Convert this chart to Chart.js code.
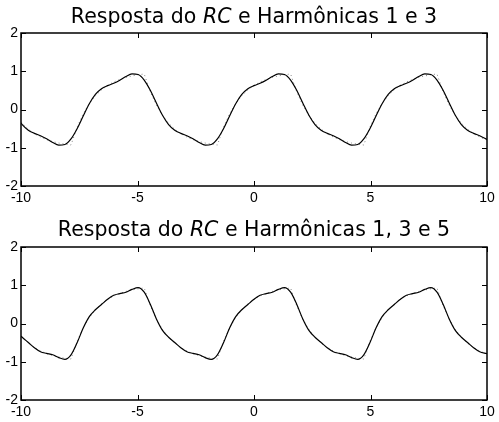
<!DOCTYPE html>
<html>
<head>
<meta charset="utf-8">
<script src="https://cdn.jsdelivr.net/npm/chart.js@4.4.0/dist/chart.umd.min.js"></script>
<style>
    body { margin: 0; background: #fff; width: 499px; height: 422px; position: relative; overflow: hidden; }
    .plot { position: absolute; left: 0; width: 499px; height: 211px; }
    .titulo {
        position: absolute; left: 21px; width: 466px; text-align: center;
        font-family: "DejaVu Sans"; font-size: 20.5px; line-height: 24px; color: #000; white-space: nowrap; z-index: 2;
    }
</style>
</head>
<body>
<div class="plot" style="top:0px"><canvas id="graf1" width="499" height="211"></canvas></div>
<div class="plot" style="top:211px"><canvas id="graf2" width="499" height="211"></canvas></div>
<div class="titulo" style="top:4px">Resposta do <i>RC</i> e Harmônicas 1 e 3</div>
<div class="titulo" style="top:217px">Resposta do <i>RC</i> e Harmônicas 1, 3 e 5</div>

<script>
// eixo do tempo
const tempo = [-10, -9.948, -9.687, -9.425, -9.163, -8.901, -8.639, -8.378, -8.116, -7.854, -7.592, -7.330, -7.069, -6.807, -6.545, -6.283,
    -6.021, -5.760, -5.498, -5.236, -4.974, -4.712, -4.451, -4.189, -3.927, -3.665, -3.403, -3.142, -2.880, -2.618, -2.356, -2.094,
    -1.833, -1.571, -1.309, -1.047, -0.785, -0.524, -0.262, 0, 0.262, 0.524, 0.785, 1.047, 1.309, 1.571, 1.833, 2.094, 2.356, 2.618,
    2.880, 3.142, 3.403, 3.665, 3.927, 4.189, 4.451, 4.712, 4.974, 5.236, 5.498, 5.760, 6.021, 6.283, 6.545, 6.807, 7.069, 7.330,
    7.592, 7.854, 8.116, 8.378, 8.639, 8.901, 9.163, 9.425, 9.687, 9.948, 10];

// soma das harmonicas 1 e 3
const harm13 = [-0.354,
    -0.395, -0.543, -0.623, -0.685, -0.765, -0.862, -0.931, -0.914, -0.768, -0.501, -0.169, 0.151, 0.395, 0.543,
    0.623, 0.685, 0.765, 0.862, 0.931, 0.914, 0.768, 0.501, 0.169, -0.151, -0.395, -0.543,
    -0.623, -0.685, -0.765, -0.862, -0.931, -0.914, -0.768, -0.501, -0.169, 0.151, 0.395, 0.543,
    0.623, 0.685, 0.765, 0.862, 0.931, 0.914, 0.768, 0.501, 0.169, -0.151, -0.395, -0.543,
    -0.623, -0.685, -0.765, -0.862, -0.931, -0.914, -0.768, -0.501, -0.169, 0.151, 0.395, 0.543,
    0.623, 0.685, 0.765, 0.862, 0.931, 0.914, 0.768, 0.501, 0.169, -0.151, -0.395, -0.543, -0.623, -0.685, -0.765,
    -0.784];

// soma das harmonicas 1, 3 e 5
const harm135 = [-0.330,
    -0.360, -0.496, -0.634, -0.737, -0.781, -0.818, -0.892, -0.938, -0.819, -0.504, -0.119, 0.180, 0.360, 0.496,
    0.634, 0.737, 0.781, 0.818, 0.892, 0.938, 0.819, 0.504, 0.119, -0.180, -0.360, -0.496,
    -0.634, -0.737, -0.781, -0.818, -0.892, -0.938, -0.819, -0.504, -0.119, 0.180, 0.360, 0.496,
    0.634, 0.737, 0.781, 0.818, 0.892, 0.938, 0.819, 0.504, 0.119, -0.180, -0.360, -0.496,
    -0.634, -0.737, -0.781, -0.818, -0.892, -0.938, -0.819, -0.504, -0.119, 0.180, 0.360, 0.496,
    0.634, 0.737, 0.781, 0.818, 0.892, 0.938, 0.819, 0.504, 0.119, -0.180, -0.360, -0.496, -0.634, -0.737, -0.781,
    -0.787];

// resposta do RC (pontilhada)
const respostaRC = [-0.322,
    -0.359, -0.514, -0.631, -0.720, -0.787, -0.838, -0.877, -0.907, -0.929, -0.465, -0.112, 0.156, 0.359, 0.514,
    0.631, 0.720, 0.787, 0.838, 0.877, 0.907, 0.929, 0.465, 0.112, -0.156, -0.359, -0.514,
    -0.631, -0.720, -0.787, -0.838, -0.877, -0.907, -0.929, -0.465, -0.112, 0.156, 0.359, 0.514,
    0.631, 0.720, 0.787, 0.838, 0.877, 0.907, 0.929, 0.465, 0.112, -0.156, -0.359, -0.514,
    -0.631, -0.720, -0.787, -0.838, -0.877, -0.907, -0.929, -0.465, -0.112, 0.156, 0.359, 0.514,
    0.631, 0.720, 0.787, 0.838, 0.877, 0.907, 0.929, 0.465, 0.112, -0.156, -0.359, -0.514, -0.631, -0.720, -0.787,
    -0.799];

const ticksX = [-10, -5, 0, 5, 10];
const ticksY = [-2, -1, 0, 1, 2];

// moldura e marcas para dentro, estilo matlab
const moldura = {
    id: 'moldura',
    afterDatasetsDraw(chart) {
        let ctx = chart.ctx;
        let a = chart.chartArea;
        let sx = chart.scales.x;
        let sy = chart.scales.y;
        ctx.save();
        ctx.strokeStyle = '#000';
        ctx.lineWidth = 1;
        ctx.beginPath();
        sx.ticks.forEach((t) => {
            let px = Math.round(sx.getPixelForValue(t.value)) + 0.5;
            ctx.moveTo(px, a.bottom); ctx.lineTo(px, a.bottom - 5);
            ctx.moveTo(px, a.top); ctx.lineTo(px, a.top + 5);
        });
        sy.ticks.forEach((t) => {
            let py = Math.round(sy.getPixelForValue(t.value)) + 0.5;
            ctx.moveTo(a.left, py); ctx.lineTo(a.left + 5, py);
            ctx.moveTo(a.right, py); ctx.lineTo(a.right - 5, py);
        });
        ctx.stroke();
        ctx.lineWidth = 1.5;
        ctx.strokeRect(a.left, a.top, a.right - a.left, a.bottom - a.top);
        ctx.restore();
    }
};

function pontos(ys) {
    return tempo.map((t, i) => ({ x: t, y: ys[i] }));
}

function criaGrafico(id, serie, topo, alturaX) {
    let ctx = document.getElementById(id).getContext('2d');
    return new Chart(ctx, {
        type: 'line',
        data: {
            datasets: [
                {
                    data: pontos(serie),
                    borderColor: '#000',
                    borderWidth: 1.2,
                    pointRadius: 0,
                    cubicInterpolationMode: 'monotone',
                    fill: false
                },
                {
                    data: pontos(respostaRC),
                    borderColor: '#888',
                    borderWidth: 1,
                    borderDash: [1, 3],
                    pointRadius: 0,
                    tension: 0,
                    fill: false
                }
            ]
        },
        options: {
            responsive: false,
            animation: false,
            devicePixelRatio: 1,
            layout: { padding: { top: topo, right: 12, left: 0, bottom: 0 } },
            plugins: { legend: { display: false }, tooltip: { enabled: false }, title: { display: false } },
            scales: {
                x: {
                    type: 'linear',
                    min: -10,
                    max: 10,
                    grid: { display: false, drawTicks: false },
                    border: { display: false },
                    afterBuildTicks: (s) => { s.ticks = ticksX.map(v => ({ value: v })); },
                    afterFit: (s) => { s.height = alturaX; },
                    ticks: {
                        color: '#000',
                        padding: 4,
                        maxRotation: 0,
                        font: { family: 'Liberation Sans', size: 14 }
                    }
                },
                y: {
                    min: -2,
                    max: 2,
                    grid: { display: false, drawTicks: false },
                    border: { display: false },
                    afterBuildTicks: (s) => { s.ticks = ticksY.map(v => ({ value: v })); },
                    afterFit: (s) => { s.width = 21; },
                    ticks: {
                        color: '#000',
                        padding: 3,
                        font: { family: 'Liberation Sans', size: 14 }
                    }
                }
            }
        },
        plugins: [moldura]
    });
}

criaGrafico('graf1', harm13, 33, 25);
criaGrafico('graf2', harm135, 36, 22);
</script>
</body>
</html>
